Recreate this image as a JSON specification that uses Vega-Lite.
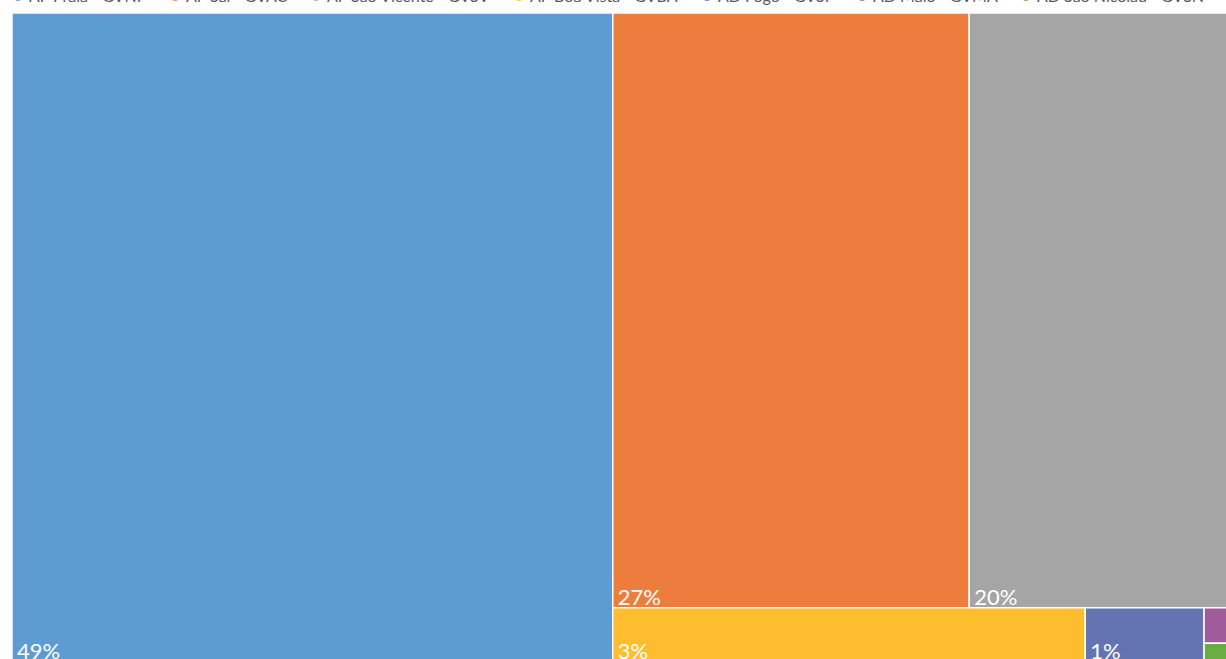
{
  "$schema": "https://vega.github.io/schema/vega-lite/v6.json",
  "width": 1214,
  "height": 646,
  "autosize": {"type": "none"},
  "padding": {"left": 12, "top": 13, "right": 0, "bottom": 0},
  "background": "white",
  "config": {"view": {"stroke": null}, "font": "Lato"},
  "data": {
    "values": [
      {"airport": "AP Praia - GVNP", "share": 48.9, "col": 1, "band": 1, "cell": 1, "ord": 1},
      {"airport": "AP Sal - GVAC", "share": 26.58, "col": 2, "band": 1, "cell": 1, "ord": 1},
      {"airport": "AP São Vicente - GVSV", "share": 20.2, "col": 2, "band": 1, "cell": 2, "ord": 1},
      {"airport": "AP Boa Vista - GVBA", "share": 3.22, "col": 2, "band": 2, "cell": 1, "ord": 1},
      {"airport": "AD Fogo - GVSF", "share": 0.81, "col": 2, "band": 2, "cell": 2, "ord": 1},
      {"airport": "AD Maio - GVMA", "share": 0.16, "col": 2, "band": 2, "cell": 3, "ord": 1},
      {"airport": "AD São Nicolau - GVSN", "share": 0.085, "col": 2, "band": 2, "cell": 3, "ord": 2}
    ]
  },
  "transform": [
    {"joinaggregate": [{"op": "sum", "field": "share", "as": "colSum"}], "groupby": ["col"]},
    {"stack": "share", "groupby": [], "sort": [{"field": "col"}, {"field": "band"}, {"field": "cell"}, {"field": "ord"}], "as": ["s0", "s1"]},
    {"joinaggregate": [{"op": "min", "field": "s0", "as": "colX0"}], "groupby": ["col"]},
    {"joinaggregate": [{"op": "sum", "field": "share", "as": "bandSum"}], "groupby": ["col", "band"]},
    {"stack": "share", "groupby": ["col"], "sort": [{"field": "band"}, {"field": "cell"}, {"field": "ord"}], "as": ["b0", "b1"]},
    {"joinaggregate": [{"op": "min", "field": "b0", "as": "bandStart"}], "groupby": ["col", "band"]},
    {"calculate": "datum.bandStart / datum.colSum", "as": "y0"},
    {"calculate": "(datum.bandStart + datum.bandSum) / datum.colSum", "as": "y1"},
    {"joinaggregate": [{"op": "sum", "field": "share", "as": "cellSum"}], "groupby": ["col", "band", "cell"]},
    {"stack": "share", "groupby": ["col", "band"], "sort": [{"field": "cell"}, {"field": "ord"}], "as": ["c0", "c1"]},
    {"joinaggregate": [{"op": "min", "field": "c0", "as": "cellStart"}], "groupby": ["col", "band", "cell"]},
    {"calculate": "datum.colX0 + datum.colSum * datum.cellStart / datum.bandSum", "as": "x0"},
    {"calculate": "datum.colX0 + datum.colSum * (datum.cellStart + datum.cellSum) / datum.bandSum", "as": "x1"},
    {"stack": "share", "groupby": ["col", "band", "cell"], "sort": [{"field": "ord"}], "as": ["l0", "l1"]},
    {"calculate": "datum.y0 + (datum.y1 - datum.y0) * datum.l0 / datum.cellSum", "as": "ty0"},
    {"calculate": "datum.y0 + (datum.y1 - datum.y0) * datum.l1 / datum.cellSum", "as": "ty1"},
    {"calculate": "format(datum.share, '.0f') + '%'", "as": "label"}
  ],
  "layer": [
    {
      "mark": {"type": "rect", "stroke": "white", "strokeWidth": 1.5, "clip": true},
      "encoding": {
        "x": {"field": "x0", "type": "quantitative", "axis": null, "scale": {"zero": true, "nice": false, "range": [0, 1228]}},
        "x2": {"field": "x1"},
        "y": {"field": "ty0", "type": "quantitative", "axis": null, "scale": {"domain": [0, 1], "nice": false, "range": [0, 649]}},
        "y2": {"field": "ty1"},
        "color": {
          "field": "airport",
          "type": "nominal",
          "scale": {
            "domain": ["AP Praia - GVNP", "AP Sal - GVAC", "AP São Vicente - GVSV", "AP Boa Vista - GVBA", "AD Fogo - GVSF", "AD Maio - GVMA", "AD São Nicolau - GVSN"],
            "range": ["#5E9BD3", "#ED7D3D", "#A5A5A5", "#FDBD2E", "#6474B2", "#A05C9A", "#6BAD45"]
          },
          "legend": {
            "orient": "none",
            "legendX": -2,
            "legendY": -24,
            "direction": "horizontal",
            "title": null,
            "symbolType": "circle",
            "symbolSize": 60,
            "symbolStrokeWidth": 0,
            "labelFont": "Lato",
            "labelFontSize": 16,
            "labelColor": "#595959",
            "labelLimit": 400,
            "columnPadding": 20,
            "symbolOffset": 0,
            "labelOffset": 3
          }
        }
      }
    },
    {
      "transform": [{"filter": "datum.share >= 0.5"}],
      "mark": {"type": "text", "align": "left", "baseline": "alphabetic", "dx": 5, "dy": -3, "color": "white", "font": "Lato", "fontSize": 22, "clip": true},
      "encoding": {
        "x": {"field": "x0", "type": "quantitative"},
        "y": {"field": "ty1", "type": "quantitative"},
        "text": {"field": "label"}
      }
    }
  ]
}
